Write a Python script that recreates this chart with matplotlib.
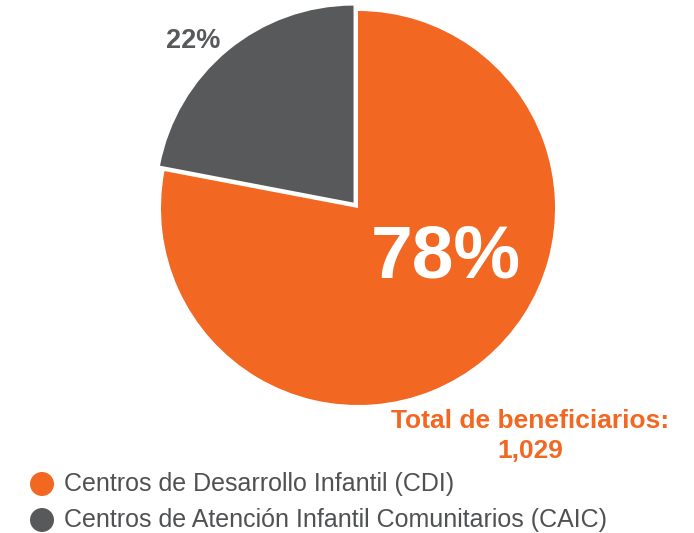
import matplotlib.pyplot as plt
from matplotlib.patches import Circle

####### Data #######
labels = ["Centros de Desarrollo Infantil (CDI)",
          "Centros de Atención Infantil Comunitarios (CAIC)"]
values = [78, 22]
pct_text = ["78%", "22%"]
total_label = "Total de beneficiarios:"
total_value = "1,029"

orange = "#F26722"
gray = "#58595B"
text_gray = "#505153"
####################

plt.rcParams['font.family'] = ['Liberation Sans', 'DejaVu Sans']

W, H = 694, 533
fig = plt.figure(figsize=(W / 100, H / 100), dpi=100)
ax = fig.add_axes([0, 0, 1, 1])

# pie in pixel coords (y from bottom); explode is in data units here
cx, cy, r = 358, H - 208, 197
ax.pie(values, colors=[orange, gray], startangle=90, counterclock=False,
       center=(cx, cy), radius=r, explode=[0, 7],
       wedgeprops=dict(linewidth=0), frame=True)
ax.set_xlim(0, W)
ax.set_ylim(0, H)
ax.set_aspect('equal')
ax.axis('off')

ax.text(446, H - 258, pct_text[0], color='white', fontsize=54,
        fontweight='bold', ha='center', va='center')
ax.text(193, H - 41, pct_text[1], color=gray, fontsize=19.5,
        fontweight='bold', ha='center', va='center')

ax.text(530, H - 421, total_label, color=orange, fontsize=19,
        fontweight='bold', ha='center', va='center')
ax.text(530, H - 451, total_value, color=orange, fontsize=19,
        fontweight='bold', ha='center', va='center')

# legend
leg_y = [H - 484, H - 520]
for lab, col, y in zip(labels, [orange, gray], leg_y):
    ax.add_patch(Circle((42, y), 12, color=col, lw=0))
    ax.text(64, y, lab, color=text_gray, fontsize=18,
            ha='left', va='center')

plt.savefig("out.png", dpi=100)
